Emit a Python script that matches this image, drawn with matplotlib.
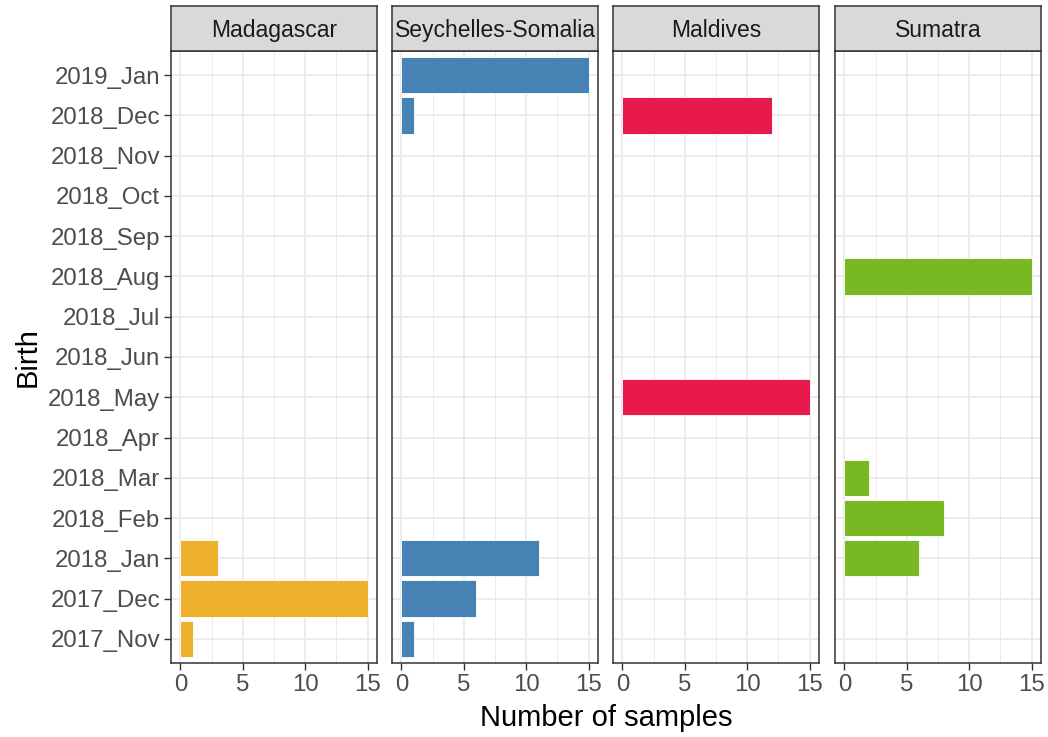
import matplotlib
matplotlib.use("Agg")
import matplotlib.pyplot as plt
import numpy as np

plt.rcParams['font.family'] = ['Liberation Sans', 'DejaVu Sans']

categories = ["2017_Nov", "2017_Dec", "2018_Jan", "2018_Feb", "2018_Mar", "2018_Apr",
              "2018_May", "2018_Jun", "2018_Jul", "2018_Aug", "2018_Sep", "2018_Oct",
              "2018_Nov", "2018_Dec", "2019_Jan"]
regions = ["Madagascar", "Seychelles-Somalia", "Maldives", "Sumatra"]
colors = ["#EEB12C", "#4682B4", "#E8194B", "#78B823"]

madagascar_months = ["2018_Jan", "2017_Dec", "2017_Nov"]
madagascar_counts = [3, 15, 1]
seychelles_months = ["2019_Jan", "2018_Dec", "2018_Jan", "2017_Dec", "2017_Nov"]
seychelles_counts = [15, 1, 11, 6, 1]
maldives_months = ["2018_Dec", "2018_May"]
maldives_counts = [12, 15]
sumatra_months = ["2018_Aug", "2018_Mar", "2018_Feb", "2018_Jan"]
sumatra_counts = [15, 2, 8, 6]

data = [(madagascar_months, madagascar_counts), (seychelles_months, seychelles_counts),
        (maldives_months, maldives_counts), (sumatra_months, sumatra_counts)]

W, H = 1048, 737
fig = plt.figure(figsize=(W / 100, H / 100), dpi=100)

lefts = [171, 392, 613, 835]
pw = 206
ptop, pbot = 51, 663
stop = 6

tick_color = "#4D4D4D"
border = "#333333"

for i, (region, (months, counts)) in enumerate(zip(regions, data)):
    ax = fig.add_axes([lefts[i] / W, (H - pbot) / H, pw / W, (pbot - ptop) / H])
    ypos = [categories.index(m) for m in months]
    ax.barh(ypos, counts, height=0.9, color=colors[i], edgecolor="white", linewidth=0.6, zorder=3)
    ax.set_xlim(-0.75, 15.75)
    ax.set_ylim(-0.6, len(categories) - 0.4)
    ax.set_xticks([0, 5, 10, 15])
    ax.set_xticks([2.5, 7.5, 12.5], minor=True)
    ax.set_yticks(range(len(categories)))
    ax.grid(which="major", color="#EBEBEB", linewidth=1.3, zorder=0)
    ax.grid(which="minor", axis="x", color="#EBEBEB", linewidth=0.7, zorder=0)
    ax.set_axisbelow(True)
    ax.tick_params(which="major", length=5, width=1.0, color=border, labelsize=17.3,
                   labelcolor=tick_color, pad=3)
    ax.tick_params(which="minor", length=0)
    if i == 0:
        ax.set_yticklabels(categories)
    else:
        ax.tick_params(axis="y", left=False, labelleft=False)
    for sp in ax.spines.values():
        sp.set_color(border)
        sp.set_linewidth(1.1)
    # strip
    sax = fig.add_axes([lefts[i] / W, (H - ptop) / H, pw / W, (ptop - stop) / H])
    sax.set_xticks([]); sax.set_yticks([])
    sax.set_facecolor("#D9D9D9")
    for sp in sax.spines.values():
        sp.set_color(border)
        sp.set_linewidth(1.1)
    sax.text(0.5, 0.45, region, ha="center", va="center", fontsize=16.5, color="#1A1A1A",
             transform=sax.transAxes)

fig.text(606 / W, 1 - 718 / H, "Number of samples", ha="center", va="center", fontsize=21)
fig.text(28 / W, 1 - 357 / H, "Birth", ha="center", va="center", rotation=90, fontsize=21)

fig.savefig("out.png", dpi=100)
